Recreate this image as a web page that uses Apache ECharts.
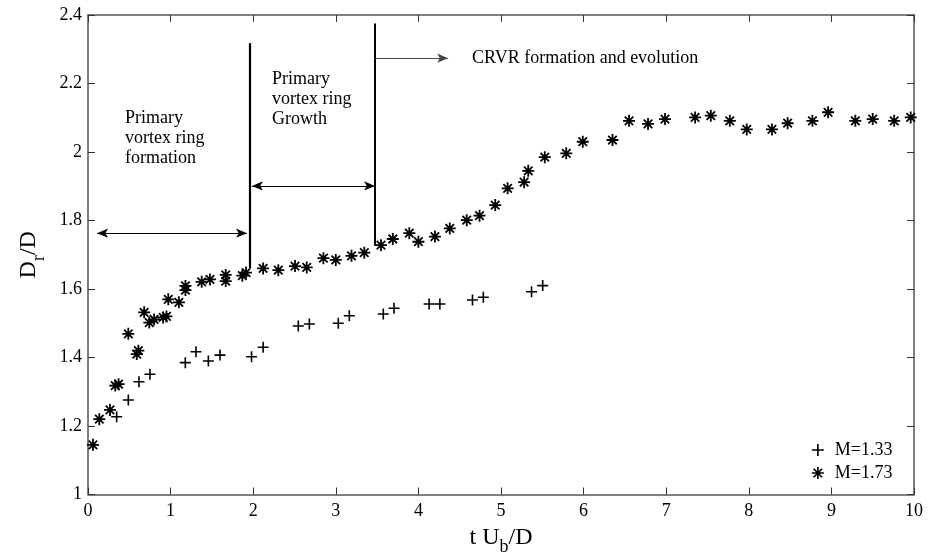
<!DOCTYPE html>
<html>
<head>
<meta charset="utf-8">
<script src="https://cdn.jsdelivr.net/npm/echarts@6/dist/echarts.min.js"></script>
<style>
  html, body { margin: 0; padding: 0; background: #fff; }
  #chart { width: 934px; height: 560px; }
</style>
</head>
<body>
<div id="chart"></div>
<script>
const FONT = '"Liberation Serif", "Times New Roman", Times, serif';

// Ring diameter D_r/D versus formation time t U_b/D
const tU_M133 = [0.347, 0.488, 0.617, 0.75, 1.178, 1.307, 1.457, 1.598, 1.98, 2.12,
                 2.546, 2.68, 3.03, 3.164, 3.575, 3.705, 4.13, 4.26, 4.655, 4.786, 5.37, 5.505];
const Dr_M133 = [1.227, 1.276, 1.329, 1.351, 1.385, 1.417, 1.390, 1.407, 1.402, 1.430,
                 1.492, 1.498, 1.500, 1.522, 1.527, 1.544, 1.556, 1.556, 1.568, 1.576, 1.592, 1.610];

const tU_M173 = [0.06, 0.137, 0.266, 0.33, 0.37, 0.488, 0.59, 0.61, 0.68, 0.742,
                 0.80, 0.91, 0.95, 0.972, 1.10, 1.18, 1.18, 1.376, 1.477, 1.667,
                 1.667, 1.868, 1.913, 2.12, 2.304, 2.506, 2.648, 2.85, 3.00, 3.19,
                 3.345, 3.547, 3.69, 3.89, 4.0, 4.20, 4.38, 4.585, 4.74, 4.93,
                 5.08, 5.28, 5.33, 5.53, 5.79, 5.99, 6.35, 6.55, 6.78, 6.985,
                 7.35, 7.54, 7.77, 7.975, 8.28, 8.47, 8.77, 8.96, 9.29, 9.50,
                 9.76, 9.96];
const Dr_M173 = [1.145, 1.220, 1.247, 1.318, 1.322, 1.469, 1.410, 1.420, 1.532, 1.502,
                 1.511, 1.517, 1.520, 1.570, 1.561, 1.609, 1.597, 1.621, 1.628, 1.641,
                 1.623, 1.639, 1.648, 1.660, 1.655, 1.667, 1.663, 1.690, 1.685, 1.697,
                 1.706, 1.728, 1.746, 1.763, 1.738, 1.753, 1.777, 1.801, 1.814, 1.845,
                 1.894, 1.912, 1.945, 1.985, 1.996, 2.030, 2.035, 2.091, 2.082, 2.096,
                 2.101, 2.106, 2.091, 2.066, 2.066, 2.084, 2.091, 2.116, 2.091, 2.096,
                 2.091, 2.101];

const seriesNames = ['M=1.33', 'M=1.73'];

// Phase boundaries (t U_b/D) and the vertical extent of each divider (D_r/D)
const dividerT   = [1.96, 3.475];
const dividerTop = [2.318, 2.375];
const dividerBot = [1.661, 1.726];

// Span arrows: [tStart, tEnd, level]
const spanFormation = [0.11, 1.925, 1.763];
const spanGrowth    = [1.985, 3.475, 1.901];
const arrowCRVR     = [3.475, 4.36, 2.274];

// Phase captions: text and top-left anchor in data units
const captions = [
  { text: 'Primary\nvortex ring\nformation', t: 0.448, d: 2.128 },
  { text: 'Primary\nvortex ring\nGrowth',    t: 2.228, d: 2.242 },
  { text: 'CRVR formation and evolution',    t: 4.65,  d: 2.304 }
];

const PLUS = 'path://M5,0L5,10M0,5L10,5';
const STAR = 'path://M5,0L5,10M0,5L10,5M1.46,1.46L8.54,8.54M1.46,8.54L8.54,1.46';

const zip = (xs, ys) => xs.map((x, i) => [x, ys[i]]);

// Axis titles: main glyphs sit at the top of a taller line box, the subscript at its bottom
const nameRich = {
  a: { fontFamily: FONT, fontSize: 24, color: '#000', lineHeight: 24, verticalAlign: 'top' },
  s: { fontFamily: FONT, fontSize: 18, color: '#000', lineHeight: 31, verticalAlign: 'bottom' }
};

const axisLineStyle = { color: '#555', width: 1.5 };
const tickStyle = { color: '#333', width: 1 };

function frameAxis(pos, min, max, interval) {
  return {
    type: 'value', position: pos, min: min, max: max, interval: interval,
    axisLine: { show: true, onZero: false, lineStyle: axisLineStyle },
    axisTick: { show: true, inside: true, length: 7, lineStyle: tickStyle },
    axisLabel: { show: false },
    splitLine: { show: false }
  };
}

const chart = echarts.init(document.getElementById('chart'), null, { renderer: 'canvas' });

const lineCommon = { color: '#000', type: 'solid' };

chart.setOption({
  animation: false,
  backgroundColor: '#fff',
  grid: { left: 88, right: 20, top: 15, bottom: 65.5, containLabel: false, outerBoundsMode: 'none' },
  legend: {
    orient: 'vertical', left: 806, top: 436,
    itemWidth: 12, itemHeight: 12, itemGap: 5,
    textStyle: { fontFamily: FONT, fontSize: 18, color: '#000', padding: [0, 0, 0, 6] },
    itemStyle: { color: '#000', borderColor: '#000', borderWidth: 1.7 },
    data: [{ name: seriesNames[0], icon: PLUS }, { name: seriesNames[1], icon: STAR }]
  },
  xAxis: [
    {
      type: 'value', position: 'bottom', min: 0, max: 10, interval: 1,
      axisLine: { show: true, onZero: false, lineStyle: axisLineStyle },
      axisTick: { show: true, inside: true, length: 7, lineStyle: tickStyle },
      axisLabel: { fontFamily: FONT, fontSize: 18, color: '#000', margin: 8 },
      splitLine: { show: false },
      name: '{a|t U}{s|b}{a|/D}',
      nameLocation: 'middle', nameGap: 30,
      nameTextStyle: { rich: nameRich }
    },
    frameAxis('top', 0, 10, 1)
  ],
  yAxis: [
    {
      type: 'value', position: 'left', min: 1, max: 2.4, interval: 0.2,
      axisLine: { show: true, onZero: false, lineStyle: axisLineStyle },
      axisTick: { show: true, inside: true, length: 7, lineStyle: tickStyle },
      axisLabel: { fontFamily: FONT, fontSize: 18, color: '#000', margin: 6 },
      splitLine: { show: false },
      name: '{a|D}{s|r}{a|/D}',
      nameLocation: 'middle', nameGap: 40, nameRotate: 90,
      nameTextStyle: { rich: nameRich }
    },
    frameAxis('right', 1, 2.4, 0.2)
  ],
  series: [
    {
      name: seriesNames[0], type: 'scatter',
      symbol: PLUS, symbolSize: 11,
      itemStyle: { color: '#000', borderColor: '#000', borderWidth: 1.6, opacity: 1 },
      data: zip(tU_M133, Dr_M133)
    },
    {
      name: seriesNames[1], type: 'scatter',
      symbol: STAR, symbolSize: 12,
      itemStyle: { color: '#000', borderColor: '#000', borderWidth: 1.8, opacity: 1 },
      data: zip(tU_M173, Dr_M173),
      markLine: {
        silent: true, animation: false,
        symbol: ['none', 'none'],
        label: { show: false },
        emphasis: { disabled: true },
        lineStyle: lineCommon,
        data: [
          [{ coord: [dividerT[0], dividerTop[0]], lineStyle: { width: 2.2, color: '#000', type: 'solid' } },
           { coord: [dividerT[0], dividerBot[0]] }],
          [{ coord: [dividerT[1], dividerTop[1]], lineStyle: { width: 2, color: '#000', type: 'solid' } },
           { coord: [dividerT[1], dividerBot[1]] }],
          [{ coord: [spanFormation[0], spanFormation[2]], symbol: 'arrow', symbolSize: [7, 11], lineStyle: { width: 1.2, color: '#000', type: 'solid' } },
           { coord: [spanFormation[1], spanFormation[2]], symbol: 'arrow', symbolSize: [7, 11] }],
          [{ coord: [spanGrowth[0], spanGrowth[2]], symbol: 'arrow', symbolSize: [7, 11], lineStyle: { width: 1.2, color: '#000', type: 'solid' } },
           { coord: [spanGrowth[1], spanGrowth[2]], symbol: 'arrow', symbolSize: [7, 11] }],
          [{ coord: [arrowCRVR[0], arrowCRVR[2]], symbol: 'none', lineStyle: { width: 1.2, color: '#444', type: 'solid' } },
           { coord: [arrowCRVR[1], arrowCRVR[2]], symbol: 'arrow', symbolSize: [7, 11] }]
        ]
      }
    }
  ]
});

// Phase captions placed in data space
const toPx = (t, d) => chart.convertToPixel({ xAxisIndex: 0, yAxisIndex: 0 }, [t, d]);
chart.setOption({
  graphic: captions.map(c => {
    const p = toPx(c.t, c.d);
    return {
      type: 'text', x: p[0], y: p[1], silent: true,
      style: {
        text: c.text, fill: '#000',
        font: '18px ' + FONT, lineHeight: 20,
        align: 'left', verticalAlign: 'top'
      }
    };
  })
});
</script>
</body>
</html>
